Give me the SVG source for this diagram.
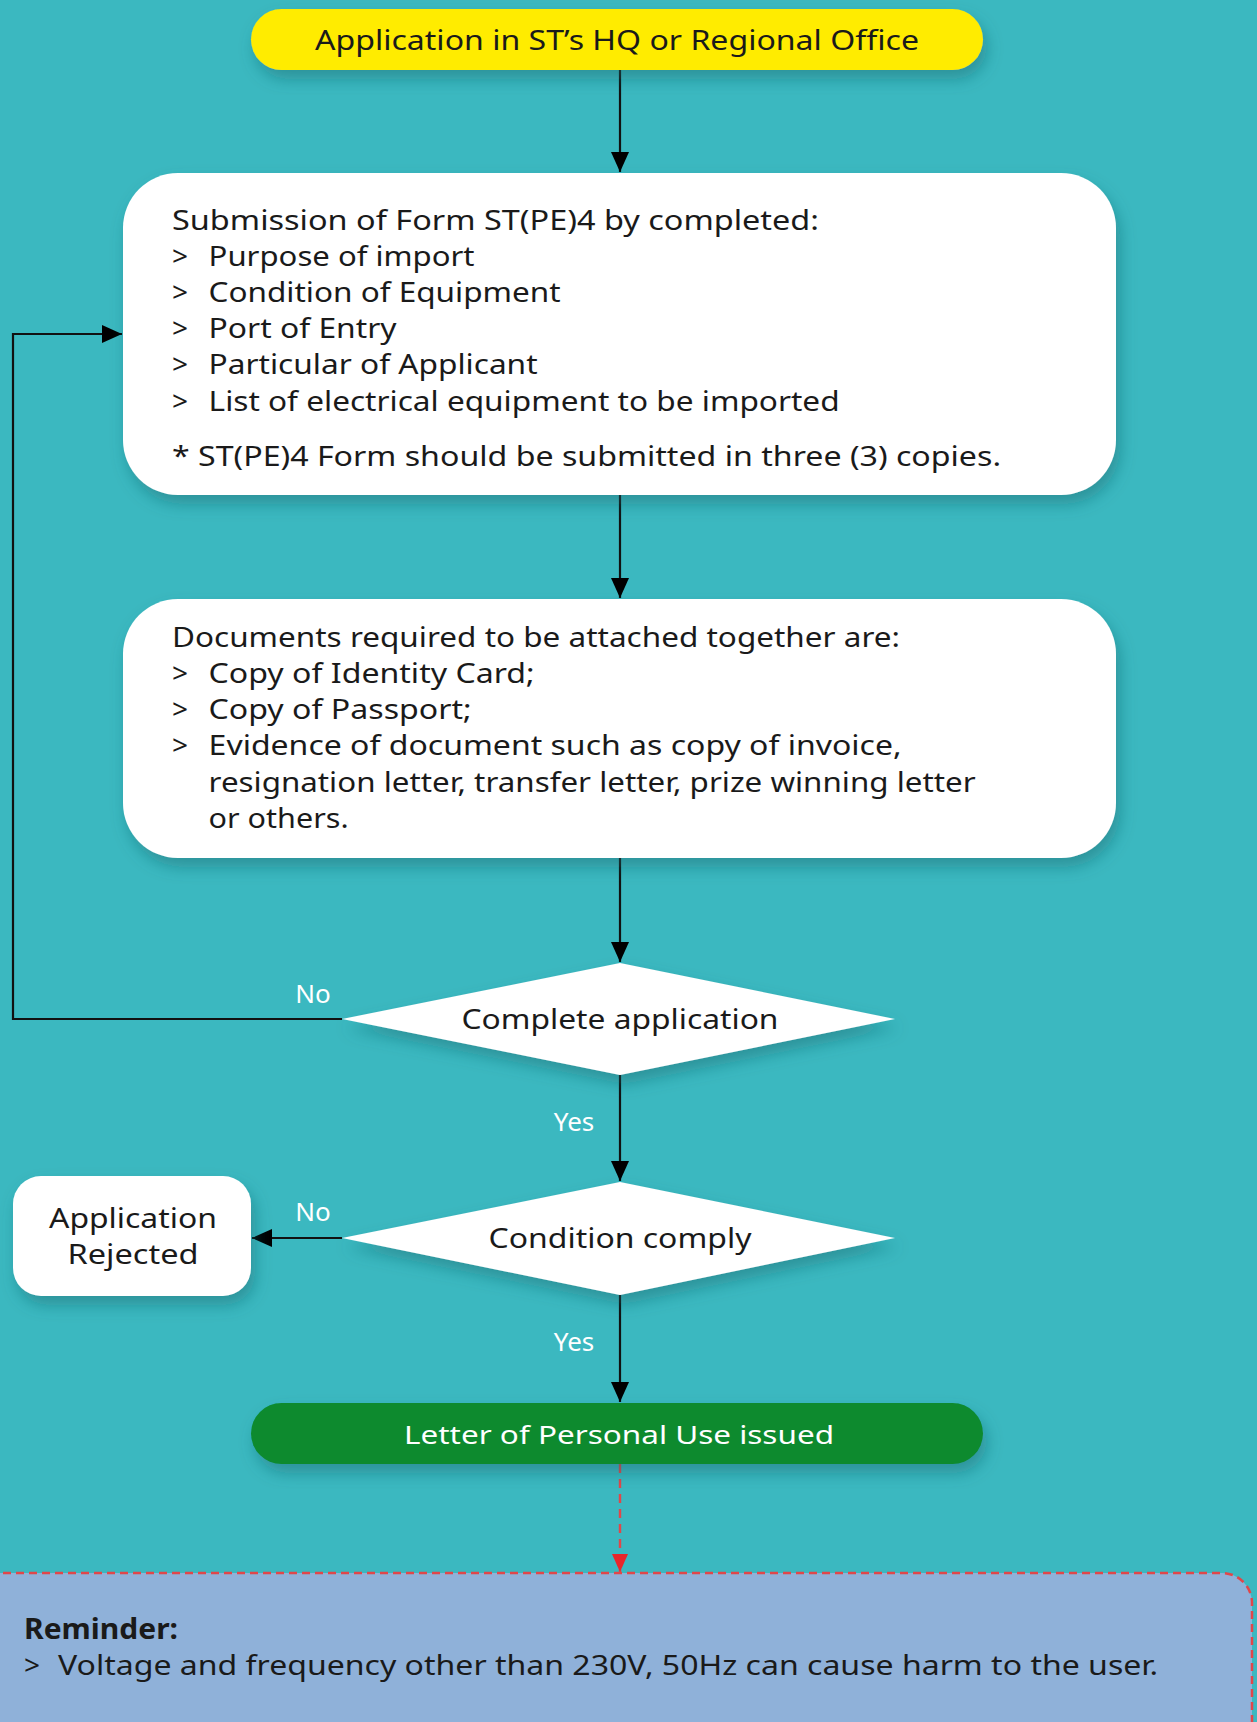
<svg xmlns="http://www.w3.org/2000/svg" width="1257" height="1722" viewBox="0 0 1257 1722">
<style>
.t{font-family:"Noto Sans","Liberation Sans",sans-serif;font-size:28px;fill:#1a1a1a}
.w{font-family:"Noto Sans","Liberation Sans",sans-serif;font-size:26px;fill:#ffffff}
.c{text-anchor:middle}
.ln{fill:none;stroke:#111;stroke-width:2.2}
</style>
<defs>
<filter id="sh" x="-10%" y="-20%" width="130%" height="160%">
<feDropShadow dx="4" dy="9" stdDeviation="8" flood-color="#17656b" flood-opacity="0.45"/>
</filter>
<marker id="ah" markerWidth="20" markerHeight="20" refX="20" refY="9" orient="auto" markerUnits="userSpaceOnUse">
<path d="M0,0 L20,9 L0,18 z" fill="#000"/>
</marker>
<marker id="ahr" markerWidth="20" markerHeight="20" refX="18" refY="8" orient="auto" markerUnits="userSpaceOnUse">
<path d="M0,0 L18,8 L0,16 z" fill="#e8262a"/>
</marker>
</defs>
<rect x="0" y="0" width="1257" height="1722" fill="#3bb8c0"/>

<g id="connectors">
<path class="ln" d="M620,70 V172" marker-end="url(#ah)"/>
<path class="ln" d="M620,495 V598" marker-end="url(#ah)"/>
<path class="ln" d="M620,858 V962" marker-end="url(#ah)"/>
<path class="ln" d="M342,1019 H13 V334 H122" marker-end="url(#ah)"/>
<path class="ln" d="M620,1075 V1181" marker-end="url(#ah)"/>
<path class="ln" d="M342,1238 H252" marker-end="url(#ah)"/>
<path class="ln" d="M620,1295 V1402" marker-end="url(#ah)"/>
<path d="M620,1464 V1572" fill="none" stroke="#e0474a" stroke-width="2.4" stroke-dasharray="9,6" marker-end="url(#ahr)"/>
<text class="w c" x="313" y="1003">No</text>
<text class="w c" x="574" y="1131">Yes</text>
<text class="w c" x="313" y="1221">No</text>
<text class="w c" x="574" y="1351">Yes</text>
</g>

<g id="start">
<rect x="251" y="9" width="732" height="61" rx="30.5" fill="#ffec00" filter="url(#sh)"/>
<text class="t c" x="617" y="49.5" textLength="604" lengthAdjust="spacingAndGlyphs">Application in ST’s HQ or Regional Office</text>
</g>

<g id="submission">
<rect x="123" y="173" width="993" height="322" rx="55" fill="#ffffff" filter="url(#sh)"/>
<text class="t" x="172" y="229.5" textLength="647" lengthAdjust="spacingAndGlyphs">Submission of Form ST(PE)4 by completed:</text>
<text class="t" x="172" y="265.5">&gt;</text><text class="t" x="208.6" y="265.5" textLength="266" lengthAdjust="spacingAndGlyphs">Purpose of import</text>
<text class="t" x="172" y="301.5">&gt;</text><text class="t" x="208.6" y="301.5" textLength="352" lengthAdjust="spacingAndGlyphs">Condition of Equipment</text>
<text class="t" x="172" y="337.5">&gt;</text><text class="t" x="208.6" y="337.5" textLength="188" lengthAdjust="spacingAndGlyphs">Port of Entry</text>
<text class="t" x="172" y="374">&gt;</text><text class="t" x="208.6" y="374" textLength="329" lengthAdjust="spacingAndGlyphs">Particular of Applicant</text>
<text class="t" x="172" y="410.5">&gt;</text><text class="t" x="208.6" y="410.5" textLength="631" lengthAdjust="spacingAndGlyphs">List of electrical equipment to be imported</text>
<text class="t" x="172" y="465.5" textLength="829" lengthAdjust="spacingAndGlyphs">* ST(PE)4 Form should be submitted in three (3) copies.</text>
</g>

<g id="documents">
<rect x="123" y="599" width="993" height="259" rx="55" fill="#ffffff" filter="url(#sh)"/>
<text class="t" x="172" y="646.5" textLength="728" lengthAdjust="spacingAndGlyphs">Documents required to be attached together are:</text>
<text class="t" x="172" y="682.5">&gt;</text><text class="t" x="208.6" y="682.5" textLength="326" lengthAdjust="spacingAndGlyphs">Copy of Identity Card;</text>
<text class="t" x="172" y="718.5">&gt;</text><text class="t" x="208.6" y="718.5" textLength="263" lengthAdjust="spacingAndGlyphs">Copy of Passport;</text>
<text class="t" x="172" y="755">&gt;</text><text class="t" x="208.6" y="755" textLength="693" lengthAdjust="spacingAndGlyphs">Evidence of document such as copy of invoice,</text>
<text class="t" x="208.6" y="791.5" textLength="767" lengthAdjust="spacingAndGlyphs">resignation letter, transfer letter, prize winning letter</text>
<text class="t" x="208.6" y="827.5" textLength="140" lengthAdjust="spacingAndGlyphs">or others.</text>
</g>

<g id="complete">
<polygon points="620,963 895,1019 620,1075 342,1019" fill="#ffffff" filter="url(#sh)"/>
<text class="t c" x="620" y="1028.5" textLength="317" lengthAdjust="spacingAndGlyphs">Complete application</text>
</g>

<g id="comply">
<polygon points="620,1182 895,1238 620,1295 342,1238" fill="#ffffff" filter="url(#sh)"/>
<text class="t c" x="620" y="1247.5" textLength="263" lengthAdjust="spacingAndGlyphs">Condition comply</text>
</g>

<g id="rejected">
<rect x="13" y="1176" width="238" height="120" rx="28" fill="#ffffff" filter="url(#sh)"/>
<text class="t c" x="133" y="1228" textLength="168" lengthAdjust="spacingAndGlyphs">Application</text>
<text class="t c" x="133" y="1263.5" textLength="131" lengthAdjust="spacingAndGlyphs">Rejected</text>
</g>

<g id="issued">
<rect x="251" y="1403" width="732" height="61" rx="30.5" fill="#0b8a2e" filter="url(#sh)"/>
<text class="w c" x="619" y="1443.5" font-size="28" textLength="430" lengthAdjust="spacingAndGlyphs">Letter of Personal Use issued</text>
</g>

<g id="reminder">
<rect x="-40" y="1573" width="1292" height="220" rx="30" fill="#8fb1d9" stroke="#e0474a" stroke-width="2.5" stroke-dasharray="8,5"/>
<text class="t" x="24" y="1639" font-weight="bold" textLength="154" lengthAdjust="spacingAndGlyphs">Reminder:</text>
<text class="t" x="24" y="1675">&gt;</text>
<text class="t" x="58" y="1675" textLength="1100" lengthAdjust="spacingAndGlyphs">Voltage and frequency other than 230V, 50Hz can cause harm to the user.</text>
</g>
</svg>
